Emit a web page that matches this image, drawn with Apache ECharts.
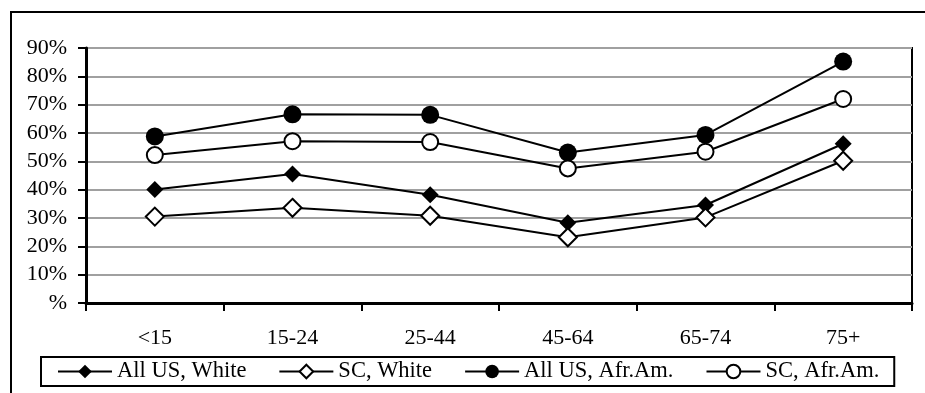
<!DOCTYPE html>
<html>
<head>
<meta charset="utf-8">
<script src="https://cdn.jsdelivr.net/npm/echarts@6/dist/echarts.min.js"></script>
<style>
  html, body { margin: 0; padding: 0; background: #fff; }
  #chart { width: 925px; height: 393px; }
</style>
</head>
<body>
<div id="chart"></div>
<script>
var ageGroups = ['<15', '15-24', '25-44', '45-64', '65-74', '75+'];
var allUsWhite = [40.1, 45.5, 38.2, 28.3, 34.6, 56.2];
var scWhite = [30.5, 33.6, 30.8, 23.2, 30.2, 50.2];
var allUsAfrAm = [58.8, 66.6, 66.4, 53.1, 59.3, 85.2];
var scAfrAm = [52.2, 57.1, 56.8, 47.5, 53.4, 72.0];

var font = 'Liberation Serif, Times New Roman, serif';

var myChart = echarts.init(document.getElementById('chart'));

function lineSeries(name, data, symbol, size, filled) {
    return {
        name: name,
        type: 'line',
        data: data,
        symbol: symbol,
        symbolSize: size,
        showAllSymbol: true,
        lineStyle: { color: '#000', width: 2 },
        itemStyle: {
            color: filled ? '#000' : '#fff',
            borderColor: '#000',
            borderWidth: filled ? 0 : 2
        },
        emphasis: { disabled: true },
        z: 3
    };
}

myChart.setOption({
    animation: false,
    graphic: [{
        type: 'rect',
        shape: { x: 11, y: 12, width: 940, height: 420 },
        style: { fill: 'none', stroke: '#000', lineWidth: 2 },
        silent: true
    }],
    grid: {
        left: 86,
        top: 48,
        right: 13,
        bottom: 90,
        show: true,
        borderColor: '#000',
        borderWidth: 2
    },
    legend: {
        left: 41,
        top: 357,
        width: 870,
        padding: [3, 15, 3, 16],
        itemGap: 32,
        itemWidth: 54,
        itemHeight: 17,
        borderColor: '#000',
        borderWidth: 2,
        textStyle: { fontFamily: font, fontSize: 22.5, color: '#000' },
        data: ['All US, White', 'SC, White', 'All US, Afr.Am.', 'SC, Afr.Am.']
    },
    xAxis: {
        type: 'category',
        data: ageGroups,
        boundaryGap: true,
        axisLine: { lineStyle: { color: '#000', width: 3 } },
        axisTick: { show: true, length: 8, lineStyle: { color: '#000', width: 2 } },
        axisLabel: { margin: 24, fontFamily: font, fontSize: 22, color: '#000' }
    },
    yAxis: {
        type: 'value',
        min: 0,
        max: 90,
        interval: 10,
        axisLine: { show: true, lineStyle: { color: '#000', width: 3 } },
        axisTick: { show: true, length: 8, lineStyle: { color: '#000', width: 2 } },
        splitLine: { lineStyle: { color: '#a0a0a0', width: 2 } },
        axisLabel: {
            margin: 19,
            fontFamily: font,
            fontSize: 22,
            color: '#000',
            formatter: function (v) { return v === 0 ? '%' : v + '%'; }
        }
    },
    series: [
        lineSeries('All US, White', allUsWhite, 'diamond', 17, true),
        lineSeries('SC, White', scWhite, 'diamond', 18, false),
        lineSeries('All US, Afr.Am.', allUsAfrAm, 'circle', 18, true),
        lineSeries('SC, Afr.Am.', scAfrAm, 'circle', 16, false)
    ]
});
</script>
</body>
</html>
